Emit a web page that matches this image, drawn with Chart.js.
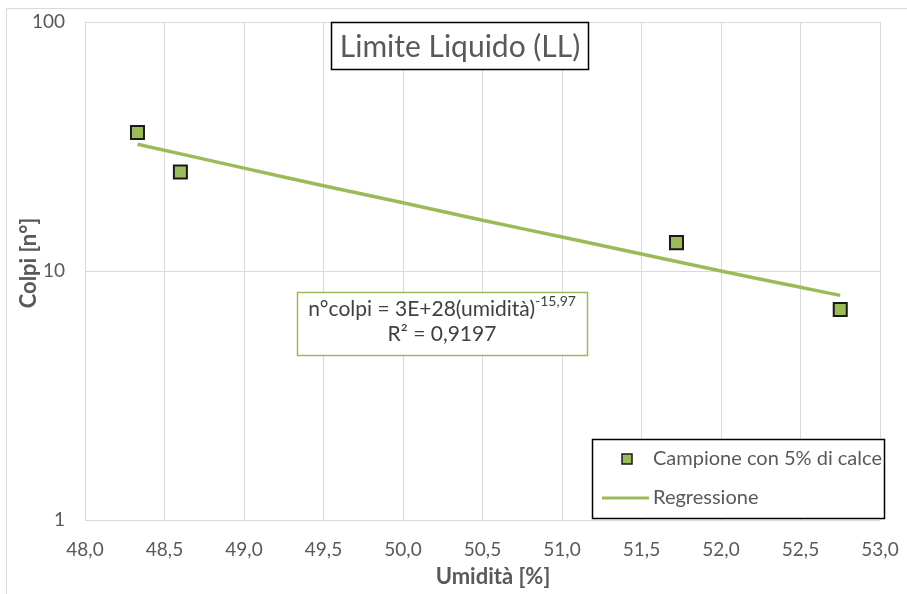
<!DOCTYPE html>
<html>
<head>
<meta charset="utf-8">
<script src="https://cdn.jsdelivr.net/npm/chart.js@4.4.1/dist/chart.umd.min.js"></script>
<style>
html,body{margin:0;padding:0;background:#fff;}
#wrap{width:907px;height:594px;position:relative;}
</style>
</head>
<body>
<div id="wrap"><canvas id="c" width="907" height="594"></canvas></div>
<script>
// ---- data ----
const chartTitle = 'Limite Liquido (LL)';
const xTitle = 'Umidità [%]';
const yTitle = 'Colpi [n°]';
const sampleLabel = 'Campione con 5% di calce';
const regLabel = 'Regressione';
const umidita = [48.33, 48.60, 51.72, 52.75];
const colpi = [36, 25, 13, 7];
const regX = [48.33, 49.0, 49.5, 50.0, 50.5, 51.0, 51.5, 52.0, 52.5, 52.75];
const regY = [32.3, 25.9, 22.0, 18.8, 16.0, 13.7, 11.7, 10.0, 8.6, 7.98];
const yTicks = [1, 10, 100];
const xMin = 48.0, xMax = 53.0, xStep = 0.5;
const eqMain = 'n°colpi = 3E+28(umidità)';
const eqExp = '-15,97';
const eqR2 = 'R² = 0,9197';

const GREEN = '#9BBB59';
const GRID = '#d9d9d9';
const TXT = '#595959';
const FONT = 'Lato';

const samplePts = umidita.map((x, i) => ({x: x, y: colpi[i]}));
const regPts = regX.map((x, i) => ({x: x, y: regY[i]}));

function zeroPad(s) { s.paddingLeft = 0; s.paddingRight = 0; s.paddingTop = 0; s.paddingBottom = 0; }

const decor = {
  id: 'decor',
  beforeDraw(chart) {
    const ctx = chart.ctx;
    ctx.save();
    ctx.strokeStyle = GRID;
    ctx.lineWidth = 1;
    ctx.beginPath();
    ctx.moveTo(6.5, 594); ctx.lineTo(6.5, 8.5); ctx.lineTo(907, 8.5);
    ctx.stroke();
    ctx.restore();
  },
  afterDraw(chart) {
    const ctx = chart.ctx;
    ctx.save();
    // axis titles
    ctx.fillStyle = TXT;
    ctx.font = 'bold 22px ' + FONT;
    ctx.textAlign = 'center';
    ctx.textBaseline = 'middle';
    ctx.fillText(xTitle, 493, 577);
    ctx.save();
    ctx.translate(29, 263);
    ctx.rotate(-Math.PI / 2);
    ctx.fillText(yTitle, 0, 0);
    ctx.restore();

    // title box
    ctx.fillStyle = '#fff';
    ctx.fillRect(331, 22, 257, 47);
    ctx.strokeStyle = '#000';
    ctx.lineWidth = 1.5;
    ctx.strokeRect(331.5, 22.5, 257, 47);
    ctx.fillStyle = TXT;
    ctx.font = '30px ' + FONT;
    ctx.textAlign = 'center';
    ctx.textBaseline = 'middle';
    ctx.fillText(chartTitle, 460, 47);

    // equation box
    ctx.fillStyle = '#fff';
    ctx.fillRect(297, 292, 290, 63);
    ctx.strokeStyle = GREEN;
    ctx.lineWidth = 1.5;
    ctx.strokeRect(297.5, 292.5, 290, 63);
    ctx.fillStyle = '#404040';
    ctx.textAlign = 'left';
    ctx.textBaseline = 'alphabetic';
    ctx.font = '21px ' + FONT;
    const w1 = ctx.measureText(eqMain).width;
    ctx.font = '14px ' + FONT;
    const w2 = ctx.measureText(eqExp).width;
    const cx = 442;
    let sx = cx - (w1 + w2) / 2;
    ctx.font = '21px ' + FONT;
    ctx.fillText(eqMain, sx, 316);
    ctx.font = '14px ' + FONT;
    ctx.fillText(eqExp, sx + w1, 306);
    ctx.font = '21px ' + FONT;
    ctx.textAlign = 'center';
    ctx.fillText(eqR2, cx, 341);

    // legend
    ctx.fillStyle = '#fff';
    ctx.fillRect(592, 439, 292, 79);
    ctx.strokeStyle = '#000';
    ctx.lineWidth = 1.5;
    ctx.strokeRect(592.5, 439.5, 292, 79);
    const ds = chart.data.datasets;
    ctx.fillStyle = GREEN;
    ctx.fillRect(622, 454, 10, 10);
    ctx.strokeStyle = '#1a1a1a';
    ctx.lineWidth = 1.5;
    ctx.strokeRect(622, 454, 10, 10);
    ctx.strokeStyle = GREEN;
    ctx.lineWidth = 3;
    ctx.beginPath(); ctx.moveTo(602, 498); ctx.lineTo(649, 498); ctx.stroke();
    ctx.fillStyle = TXT;
    ctx.font = '20px ' + FONT;
    ctx.textAlign = 'left';
    ctx.textBaseline = 'middle';
    ctx.fillText(ds[0].label, 653, 459);
    ctx.fillText(ds[1].label, 653, 498);
    ctx.restore();
  }
};

new Chart(document.getElementById('c'), {
  type: 'scatter',
  data: {
    datasets: [
      {
        label: sampleLabel,
        data: samplePts,
        pointStyle: 'rect',
        pointRadius: 9.2,
        pointHoverRadius: 9.2,
        backgroundColor: GREEN,
        borderColor: '#1a1a1a',
        borderWidth: 2,
        showLine: false,
        order: 0
      },
      {
        label: regLabel,
        data: regPts,
        showLine: true,
        pointRadius: 0,
        borderColor: GREEN,
        borderWidth: 3.5,
        tension: 0.4,
        order: 1
      }
    ]
  },
  options: {
    responsive: false,
    animation: false,
    layout: {padding: {left: 0, top: 22, right: 27, bottom: 0}},
    plugins: {legend: {display: false}, tooltip: {enabled: false}, title: {display: false}},
    scales: {
      x: {
        type: 'linear',
        min: xMin, max: xMax,
        ticks: {
          stepSize: xStep,
          color: TXT,
          font: {family: FONT, size: 19},
          padding: 18,
          callback: v => v.toFixed(1).replace('.', ',')
        },
        grid: {color: GRID, drawTicks: false, lineWidth: 1},
        border: {display: false},
        title: {display: false},
        afterFit(s) { s.height = 74; zeroPad(s); }
      },
      y: {
        type: 'logarithmic',
        min: 1, max: 100,
        afterBuildTicks(s) { s.ticks = yTicks.map(v => ({value: v})); },
        ticks: {
          color: TXT,
          font: {family: FONT, size: 19},
          padding: 20,
          callback: v => String(v)
        },
        grid: {color: GRID, drawTicks: false, lineWidth: 1},
        border: {display: false},
        title: {display: false},
        afterFit(s) { s.width = 85; zeroPad(s); }
      }
    }
  },
  plugins: [decor]
});
</script>
</body>
</html>
